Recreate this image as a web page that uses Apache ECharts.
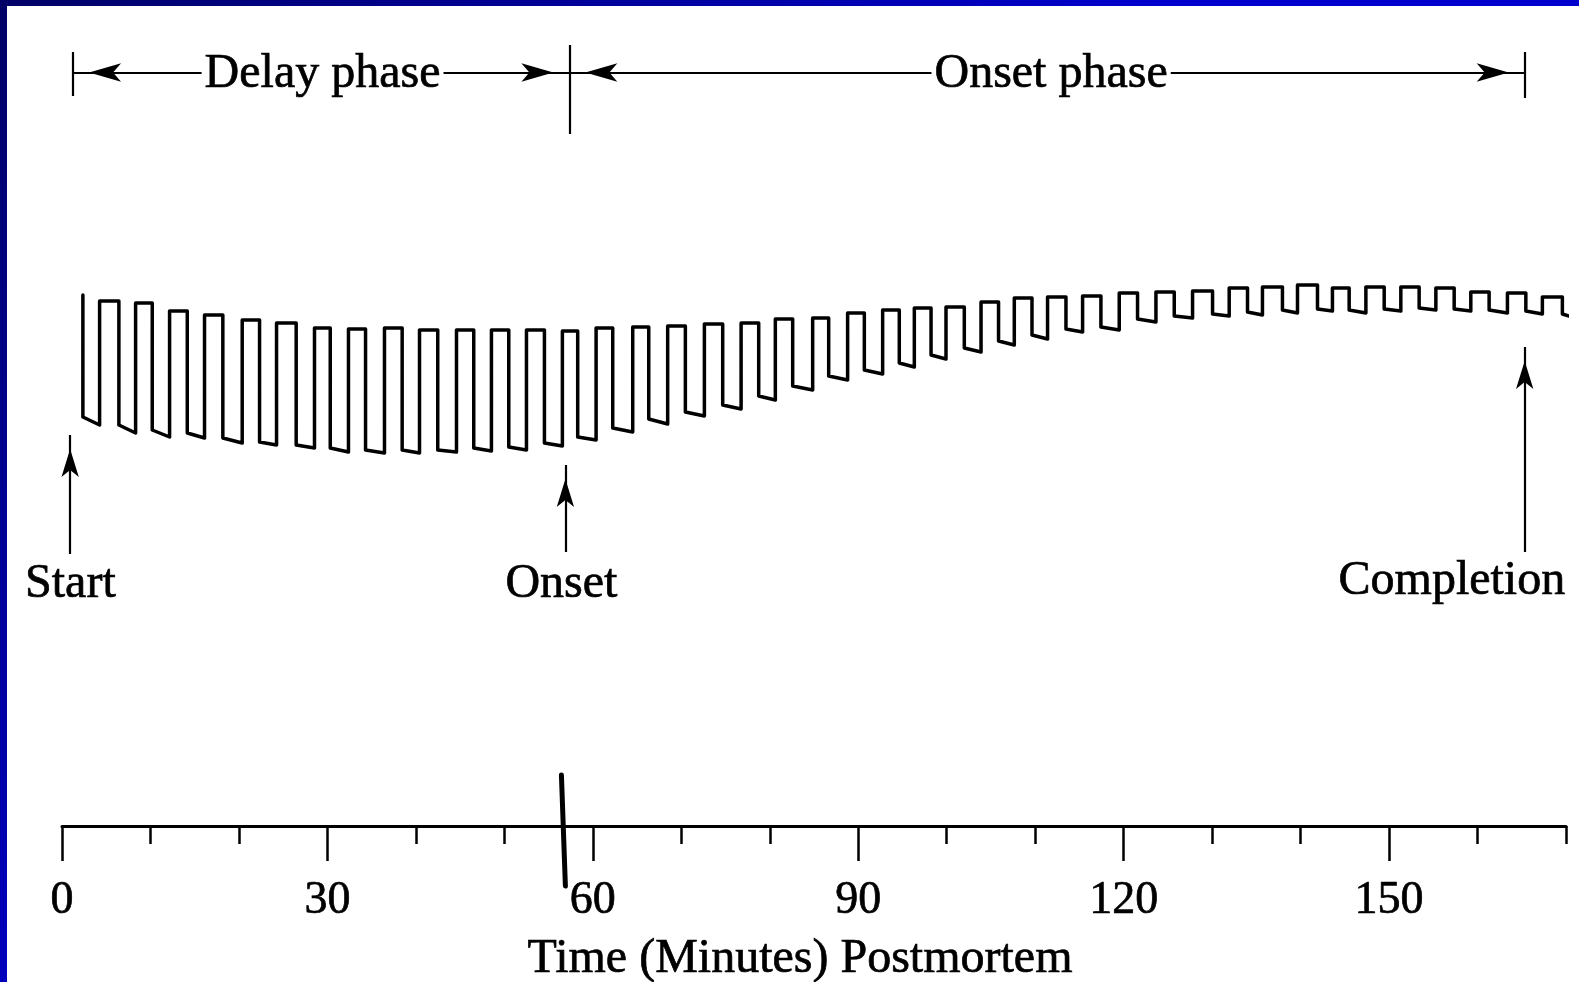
<!DOCTYPE html>
<html>
<head>
<meta charset="utf-8">
<title>Time (Minutes) Postmortem</title>
<script src="https://cdn.jsdelivr.net/npm/echarts@6/dist/echarts.min.js"></script>
<style>
  html, body { margin: 0; padding: 0; width: 1579px; height: 982px; overflow: hidden; }
  body { background: linear-gradient(135deg, #000066 0%, #0000cc 45%, #0000cc 100%); position: relative; }
  #panel { position: absolute; left: 7px; top: 6px; right: 0; bottom: 0; background: #fff; }
  #chart { position: absolute; left: 0; top: 0; width: 1579px; height: 982px; }
</style>
</head>
<body>
<div id="panel"></div>
<div id="chart"></div>
<script>
// Twitch trace: each stimulus cycle rises to a top level, then falls to a bottom level.
// Times are minutes postmortem; levels are trace deflection in arbitrary units.
const fallTimes = [2.36, 6.43, 10.20, 14.16, 18.18, 22.33, 26.47, 30.32, 34.31, 38.45,
  42.47, 46.54, 50.50, 54.53, 58.29, 62.25, 66.32, 70.46, 74.68, 78.75,
  82.59, 86.66, 90.69, 94.64, 98.23, 101.99, 105.86, 109.64, 113.48, 117.43,
  121.57, 125.72, 130.05, 134.00, 137.95, 141.91, 145.49, 149.45, 153.40, 157.36,
  161.31, 165.46, 169.59];
const riseTimes = [4.25, 8.32, 12.16, 16.11, 20.37, 24.25, 28.54, 32.38, 36.45,
  40.41, 44.59, 48.54, 52.50, 56.56, 60.37, 64.51, 68.46, 72.61, 76.76,
  80.63, 84.85, 88.80, 92.76, 96.34, 99.92, 103.88, 107.64, 111.40, 115.36,
  119.50, 123.65, 127.79, 131.93, 135.69, 139.65, 143.60, 147.38, 151.33, 155.29,
  159.24, 163.38, 167.33];
const topLevels = [53.1, 52.5, 52.3, 51.5, 51.1, 50.6, 50.3, 49.8, 49.7, 49.8,
  49.6, 49.6, 49.6, 49.6, 49.5, 49.8, 49.9, 50.0, 50.2, 50.3,
  50.7, 50.8, 51.3, 51.6, 51.8, 51.9, 52.4, 52.8, 52.9, 53.0,
  53.3, 53.4, 53.5, 53.8, 53.9, 54.1, 53.8, 53.9, 53.9, 53.8,
  53.4, 53.3, 52.9];
const bottomStart = [40.9, 40.1, 39.6, 39.3, 38.8, 38.4, 38.1, 37.8, 37.6, 37.6,
  37.6, 37.8, 37.9, 38.3, 38.9, 39.8, 40.7, 41.4, 42.1, 43.0,
  44.0, 45.0, 45.6, 46.3, 47.1, 47.8, 48.5, 49.1, 49.7, 49.9,
  50.7, 51.0, 51.2, 51.4, 51.6, 51.7, 51.6, 51.7, 51.8, 51.7,
  51.6, 51.5, 51.2];
const bottomEnd = [40.1, 39.3, 38.9, 38.8, 38.3, 38.1, 37.8, 37.4, 37.3, 37.3,
  37.4, 37.5, 37.6, 38.0, 38.6, 39.4, 40.2, 41.0, 41.7, 42.6,
  43.6, 44.6, 45.2, 45.9, 46.7, 47.4, 48.1, 48.7, 49.4, 49.6,
  50.4, 50.8, 51.0, 51.1, 51.3, 51.5, 51.3, 51.5, 51.6, 51.5,
  51.3, 51.2, 51.0];
const traceEndTime = 170.35;

// Time axis
const minorTickValues = [0, 10, 20, 30, 40, 50, 60, 70, 80, 90, 100, 110, 120, 130, 140, 150, 160, 170];
const majorTickValues = [0, 30, 60, 90, 120, 150];

// Phase bracket across the top
const phaseNames = ['Delay phase', 'Onset phase'];
const phaseBounds = [1.25, 57.35, 165.33];
const phaseLabelTimes = [29.45, 111.8];
const phaseLevel = 75.35;
const phaseLabelLevel = 75.15;
const boundTops = [77.4, 78.1, 77.4];
const boundBottoms = [73.0, 69.2, 72.8];

// Event arrows under the trace
const eventNames = ['Start', 'Onset', 'Completion'];
const eventTimes = [0.92, 56.9, 165.33];
const eventTails = [27.2, 27.4, 27.4];
const eventTips = [39.1, 36.1, 47.9];
const eventLabelTimes = [0.95, 56.45, 157.1];
const eventLabelLevels = [24.2, 24.2, 24.5];

// Hand mark across the time axis at onset
const onsetMarkTimes = [56.45, 56.9];
const onsetMarkLevels = [5.1, -6.0];

const FONT = 'Liberation Serif';
const INK = '#000';
const TEXT = { color: INK, fontFamily: FONT, textBorderColor: INK, textBorderWidth: 0.7 };

// Build the trace polyline from the cycle tables
const trace = [[fallTimes[0], topLevels[0]]];
for (let i = 0; i < fallTimes.length; i++) {
  if (i > 0) {
    trace.push([riseTimes[i - 1], bottomEnd[i - 1]]);
    trace.push([riseTimes[i - 1], topLevels[i]]);
    trace.push([fallTimes[i], topLevels[i]]);
  }
  trace.push([fallTimes[i], bottomStart[i]]);
}
trace.push([traceEndTime, bottomEnd[bottomEnd.length - 1]]);

const onsetMark = onsetMarkTimes.map((t, i) => [t, onsetMarkLevels[i]]);

const arrowHead = { symbol: 'arrow', symbolSize: [14, 32], symbolOffset: [0, 16] };
const plainEnd = { symbol: 'none' };

const marks = [];
// phase bracket lines with arrowheads at both ends
for (let i = 0; i < phaseNames.length; i++) {
  marks.push([
    Object.assign({ coord: [phaseBounds[i], phaseLevel] }, arrowHead),
    Object.assign({ coord: [phaseBounds[i + 1], phaseLevel] }, arrowHead)
  ]);
}
// vertical bounds of the bracket
for (let i = 0; i < phaseBounds.length; i++) {
  marks.push([
    Object.assign({ coord: [phaseBounds[i], boundBottoms[i]] }, plainEnd),
    Object.assign({ coord: [phaseBounds[i], boundTops[i]] }, plainEnd)
  ]);
}
// event arrows pointing up at the trace
for (let i = 0; i < eventNames.length; i++) {
  marks.push([
    Object.assign({ coord: [eventTimes[i], eventTails[i]] }, plainEnd),
    Object.assign({ coord: [eventTimes[i], eventTips[i]] }, { symbol: 'arrow', symbolSize: [13, 28], symbolOffset: [0, 14] })
  ]);
}

const textItems = [];
for (let i = 0; i < phaseNames.length; i++) {
  textItems.push({ value: [phaseLabelTimes[i], phaseLabelLevel], name: phaseNames[i],
    label: { backgroundColor: '#fff', padding: [0, 3] } });
}
for (let i = 0; i < eventNames.length; i++) {
  textItems.push({ value: [eventLabelTimes[i], eventLabelLevels[i]], name: eventNames[i] });
}

const chart = echarts.init(document.getElementById('chart'), null, { renderer: 'canvas' });

const baseAxis = {
  type: 'value', min: 0, max: 170, interval: 10,
  position: 'bottom',
  splitLine: { show: false },
  axisPointer: { show: false }
};

chart.setOption({
  animation: false,
  backgroundColor: 'transparent',
  grid: { left: 62, right: 13, top: 26, bottom: 156, containLabel: false, outerBoundsMode: 'none' },
  xAxis: [
    Object.assign({}, baseAxis, {
      axisLine: { show: true, onZero: false, lineStyle: { color: INK, width: 3 } },
      axisTick: { show: true, customValues: minorTickValues, length: 18, lineStyle: { color: INK, width: 2.5 } },
      axisLabel: Object.assign({ show: true, customValues: majorTickValues, margin: 52, fontSize: 46 }, TEXT),
      name: 'Time (Minutes) Postmortem',
      nameLocation: 'middle',
      nameGap: 109,
      nameTextStyle: Object.assign({ fontSize: 48, padding: [0, 28, 0, 0] }, TEXT)
    }),
    Object.assign({}, baseAxis, {
      axisLine: { show: false, onZero: false },
      axisTick: { show: true, customValues: majorTickValues, length: 35, lineStyle: { color: INK, width: 2.5 } },
      axisLabel: { show: false }
    })
  ],
  yAxis: { type: 'value', min: 0, max: 80, show: false, splitLine: { show: false } },
  series: [
    {
      name: 'Twitch trace',
      type: 'line',
      xAxisIndex: 0,
      yAxisIndex: 0,
      data: trace,
      showSymbol: false,
      symbol: 'none',
      clip: false,
      silent: true,
      lineStyle: { color: INK, width: 3.5, join: 'round', cap: 'round' },
      markLine: {
        silent: true,
        animation: false,
        symbol: ['none', 'none'],
        label: { show: false },
        lineStyle: { color: INK, width: 2.2, type: 'solid' },
        emphasis: { disabled: true },
        data: marks
      }
    },
    {
      name: 'Onset mark',
      type: 'line',
      xAxisIndex: 0,
      yAxisIndex: 0,
      data: onsetMark,
      showSymbol: false,
      symbol: 'none',
      clip: false,
      silent: true,
      lineStyle: { color: INK, width: 5, cap: 'round' }
    },
    {
      name: 'Annotations',
      type: 'scatter',
      xAxisIndex: 0,
      yAxisIndex: 0,
      z: 5,
      silent: true,
      symbol: 'circle',
      symbolSize: 1,
      itemStyle: { color: 'rgba(0,0,0,0)', opacity: 1 },
      label: Object.assign({
        show: true, position: 'inside', formatter: p => p.name, fontSize: 48
      }, TEXT),
      data: textItems
    }
  ]
});
</script>
</body>
</html>
